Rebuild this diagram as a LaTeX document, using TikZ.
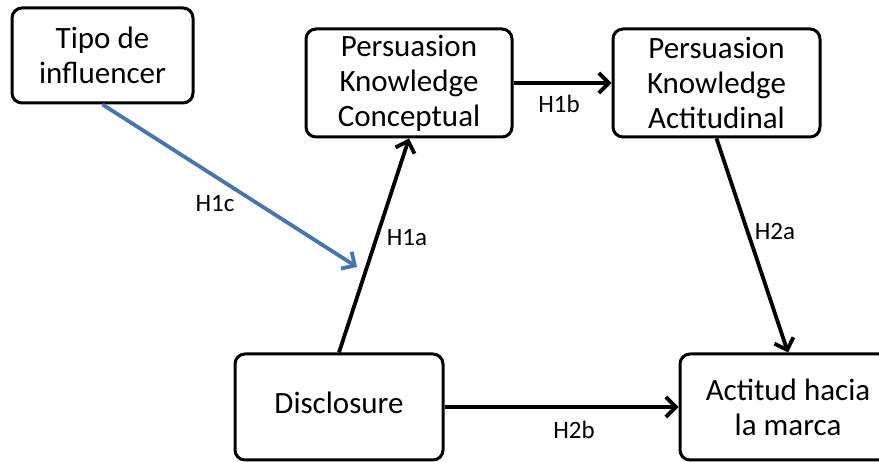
\documentclass[tikz,border=0pt]{standalone}
\usepackage{fontspec}
\setmainfont{Carlito}
\usetikzlibrary{arrows.meta}
\definecolor{linkblue}{HTML}{4775B0}
\tikzset{
  box/.style={draw=black, line width=3pt, rounded corners=10pt, fill=white, align=center,
    font=\fontsize{31}{35}\selectfont, inner sep=0pt},
  conn/.style={line width=3.8pt, -{Straight Barb[length=10pt,width=20pt,line width=3.8pt]}},
  lbl/.style={font=\fontsize{25}{30}\selectfont, inner sep=0pt}
}
\begin{document}
\begin{tikzpicture}[x=1pt,y=-1pt]
\useasboundingbox (0,0) rectangle (879,462);
\clip (0,0) rectangle (879,462);
\node[box, minimum width=181pt, minimum height=95pt] (tipo) at (102.5,55.5) {Tipo de\\influencer};
\node[box, minimum width=206pt, minimum height=108pt] (pkc) at (409,83) {Persuasion\\Knowledge\\Conceptual};
\node[box, minimum width=207pt, minimum height=108pt] (pka) at (716.5,83) {Persuasion\\Knowledge\\Actitudinal};
\node[box, minimum width=208pt, minimum height=106pt] (disc) at (339,407) {\raisebox{4pt}[\height][0pt]{Disclosure}};
\node[box, minimum width=216pt, minimum height=106pt] (act) at (788,407) {Actitud hacia\\la marca};
\coordinate (h1cend) at (357,267);
\draw[conn] (disc.north) -- (pkc.south);
\draw[conn] (pkc.east) -- (pka.west);
\draw[conn] (pka.south) -- (act.north);
\draw[conn] (disc.east) -- (act.west);
\draw[conn, draw=linkblue] (tipo.south) -- (h1cend);
\node[lbl] (l1c) at (215,204) {H1c};
\node[lbl] (l1a) at (407,238) {H1a};
\node[lbl] (l1b) at (559,104) {H1b};
\node[lbl] (l2a) at (775,231) {H2a};
\node[lbl] (l2b) at (574,430) {H2b};
\end{tikzpicture}
\end{document}
